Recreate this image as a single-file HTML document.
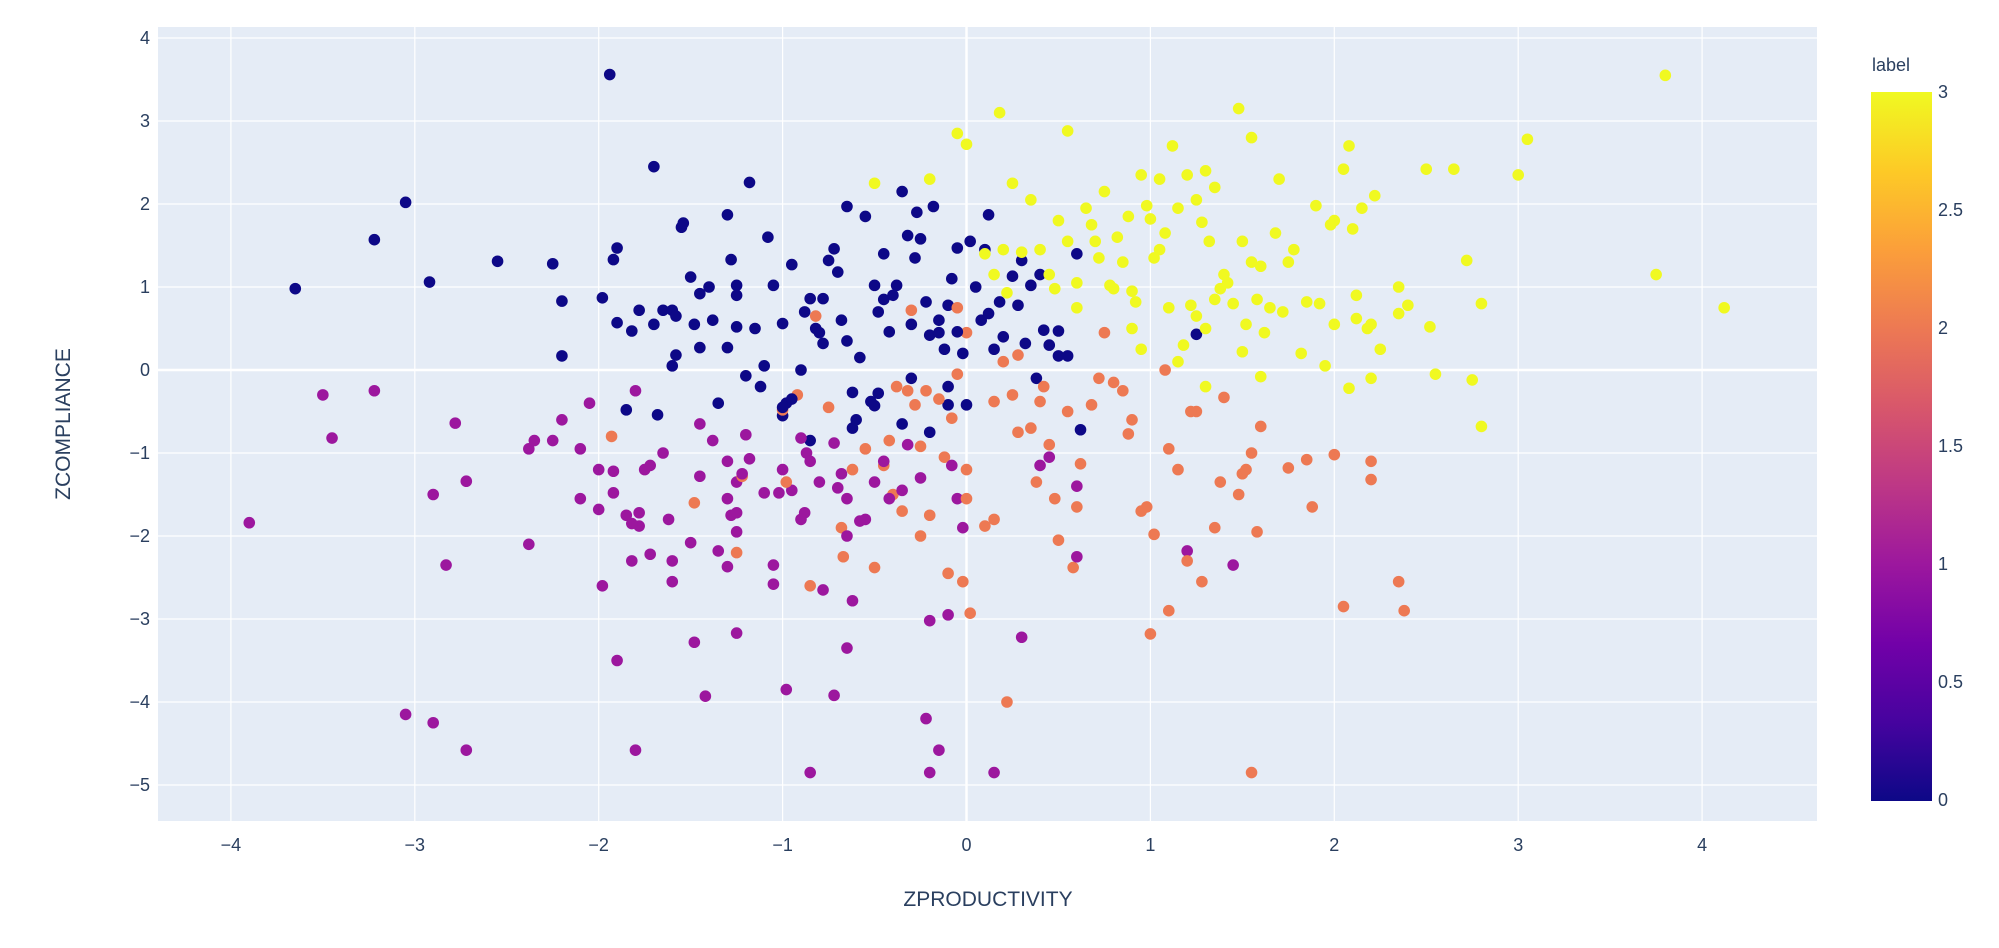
<!DOCTYPE html>
<html><head><meta charset="utf-8"><style>
html,body{margin:0;padding:0;background:#fff;}
svg{display:block;font-family:"Liberation Sans",sans-serif;}
</style></head><body>
<svg id="s" width="1999" height="948" xmlns="http://www.w3.org/2000/svg">
<defs><linearGradient id="cb" x1="0" y1="1" x2="0" y2="0">
<stop offset="0" stop-color="#0d0887"/><stop offset="0.111" stop-color="#46039f"/><stop offset="0.222" stop-color="#7201a8"/><stop offset="0.333" stop-color="#9c179e"/><stop offset="0.444" stop-color="#bd3786"/><stop offset="0.556" stop-color="#d8576b"/><stop offset="0.667" stop-color="#ed7953"/><stop offset="0.778" stop-color="#fb9f3a"/><stop offset="0.889" stop-color="#fdca26"/><stop offset="1" stop-color="#f0f921"/>
</linearGradient></defs>
<rect x="158" y="27" width="1659" height="794" fill="#e5ecf6"/>
<g id="grid"></g>
<g id="pts"></g>
<g id="lab" fill="#2a3f5f" font-size="18"></g>
<text x="988" y="906" text-anchor="middle" font-size="21" fill="#2a3f5f">ZPRODUCTIVITY</text>
<text transform="translate(70,424) rotate(-90)" text-anchor="middle" font-size="21" fill="#2a3f5f">ZCOMPLIANCE</text>
<text x="1872" y="71" font-size="18" fill="#2a3f5f">label</text>
<rect x="1871" y="92" width="61" height="709" fill="url(#cb)"/>
<g fill="#2a3f5f" font-size="18">
<text x="1938" y="98">3</text><text x="1938" y="216">2.5</text><text x="1938" y="334">2</text><text x="1938" y="452">1.5</text><text x="1938" y="570">1</text><text x="1938" y="688">0.5</text><text x="1938" y="806">0</text>
</g>
</svg>
<script>
var NS="http://www.w3.org/2000/svg";
function X(v){return 966.5+v*183.9;}function Y(v){return 370-v*83;}
function el(p,t,a){var e=document.createElementNS(NS,t);for(var k in a)e.setAttribute(k,a[k]);p.appendChild(e);return e;}
var g=document.getElementById('grid'),L=document.getElementById('lab');
for(var i=-4;i<=4;i++){el(g,'line',{x1:X(i),x2:X(i),y1:27,y2:821,stroke:'#fff','stroke-width':i==0?2.5:1.2});
var t=el(L,'text',{x:X(i),y:851,'text-anchor':'middle'});t.textContent=(i<0?'\u2212'+(-i):i);}
for(var j=-5;j<=4;j++){el(g,'line',{x1:158,x2:1817,y1:Y(j),y2:Y(j),stroke:'#fff','stroke-width':j==0?2.5:1.2});
var t=el(L,'text',{x:150,y:Y(j)+6,'text-anchor':'end'});t.textContent=(j<0?'\u2212'+(-j):j);}
var C=['#0d0887','#9c179e','#ed7953','#f0f921'];
var D=[
[[-3.65,0.98],[-3.05,2.02],[-3.22,1.57],[-2.92,1.06],[-2.55,1.31],[-2.25,1.28],[-2.2,0.83],[-2.2,0.17],[-1.98,0.87],[-1.92,1.33],[-1.9,1.47],[-1.94,3.56],[-1.9,0.57],[-1.85,-0.48],[-1.82,0.47],[-1.78,0.72],[-1.7,2.45],[-1.7,0.55],[-1.65,0.72],[-1.68,-0.54],[-1.6,0.72],[-1.58,0.65],[-1.6,0.05],[-1.58,0.18],[-1.55,1.72],[-1.54,1.77],[-1.5,1.12],[-1.48,0.55],[-1.45,0.92],[-1.45,0.27],[-1.4,1.0],[-1.38,0.6],[-1.35,-0.4],[-1.3,1.87],[-1.3,0.27],[-1.28,1.33],[-1.25,0.9],[-1.25,0.52],[-1.25,1.02],[-1.2,-0.07],[-1.18,2.26],[-1.15,0.5],[-1.12,-0.2],[-1.1,0.05],[-1.08,1.6],[-1.05,1.02],[-1.0,0.56],[-1.0,-0.55],[-0.95,1.27],[-0.95,-0.35],[-0.98,-0.4],[-0.88,0.7],[-0.85,0.86],[-0.82,0.5],[-0.8,0.45],[-0.78,0.32],[-0.78,0.86],[-0.75,1.32],[-0.72,1.46],[-0.7,1.18],[-0.68,0.6],[-0.65,1.97],[-0.65,0.35],[-0.62,-0.27],[-0.6,-0.6],[-0.62,-0.7],[-0.55,1.85],[-0.52,-0.38],[-0.5,1.02],[-0.48,0.7],[-0.45,0.85],[-0.45,1.4],[-0.42,0.46],[-0.4,0.9],[-0.38,1.02],[-0.35,2.15],[-0.32,1.62],[-0.3,-0.1],[-0.3,0.55],[-0.28,1.35],[-0.27,1.9],[-0.25,1.58],[-0.22,0.82],[-0.2,0.42],[-0.18,1.97],[-0.15,0.6],[-0.12,0.25],[-0.1,0.78],[-0.1,-0.2],[-0.08,1.1],[-0.05,1.47],[-0.05,0.46],[-0.02,0.2],[0.02,1.55],[0.05,1.0],[0.08,0.6],[0.1,1.45],[0.12,0.68],[0.12,1.87],[0.15,0.25],[0.18,0.82],[0.2,0.4],[0.25,1.13],[0.28,0.78],[0.3,1.32],[0.32,0.32],[0.35,1.02],[0.38,-0.1],[0.4,1.15],[0.42,0.48],[0.45,0.3],[0.5,0.47],[0.5,0.17],[0.55,0.17],[0.6,1.4],[0.62,-0.72],[-0.58,0.15],[-0.5,-0.43],[-0.2,-0.75],[1.25,0.43],[-0.9,0.0],[-1.0,-0.45],[-0.85,-0.85],[-0.48,-0.28],[-0.35,-0.65],[0.0,-0.42],[-0.1,-0.42],[-0.15,0.45]],
[[-3.9,-1.84],[-3.5,-0.3],[-3.45,-0.82],[-3.22,-0.25],[-2.9,-1.5],[-2.83,-2.35],[-2.78,-0.64],[-2.72,-1.34],[-2.38,-0.95],[-2.35,-0.85],[-2.38,-2.1],[-2.25,-0.85],[-2.2,-0.6],[-2.1,-0.95],[-2.1,-1.55],[-2.05,-0.4],[-2.0,-1.2],[-2.0,-1.68],[-1.98,-2.6],[-1.92,-1.22],[-1.92,-1.48],[-1.9,-3.5],[-1.85,-1.75],[-1.82,-1.85],[-1.82,-2.3],[-1.78,-1.88],[-1.78,-1.72],[-1.75,-1.2],[-1.72,-1.15],[-1.72,-2.22],[-1.65,-1.0],[-1.62,-1.8],[-1.6,-2.3],[-1.6,-2.55],[-1.5,-2.08],[-1.48,-3.28],[-1.45,-1.28],[-1.45,-0.65],[-1.42,-3.93],[-1.38,-0.85],[-1.35,-2.18],[-1.3,-1.1],[-1.3,-1.55],[-1.28,-1.75],[-1.3,-2.37],[-1.25,-1.35],[-1.25,-1.72],[-1.25,-1.95],[-1.25,-3.17],[-1.22,-1.25],[-1.2,-0.78],[-1.18,-1.07],[-1.1,-1.48],[-1.05,-2.35],[-1.05,-2.58],[-1.02,-1.48],[-1.0,-1.2],[-0.98,-3.85],[-0.95,-1.45],[-0.9,-0.82],[-0.9,-1.8],[-0.88,-1.72],[-0.87,-1.0],[-0.85,-4.85],[-0.85,-1.1],[-0.8,-1.35],[-0.78,-2.65],[-0.72,-3.92],[-0.72,-0.88],[-0.7,-1.42],[-0.68,-1.25],[-0.65,-1.55],[-0.65,-2.0],[-0.65,-3.35],[-0.62,-2.78],[-0.58,-1.82],[-0.55,-1.8],[-0.5,-1.35],[-0.45,-1.1],[-0.42,-1.55],[-0.35,-1.45],[-0.32,-0.9],[-0.25,-1.3],[-0.22,-4.2],[-0.2,-3.02],[-0.2,-4.85],[-0.15,-4.58],[-0.1,-2.95],[-0.08,-1.15],[-0.05,-1.55],[-0.02,-1.9],[0.15,-4.85],[0.3,-3.22],[0.4,-1.15],[0.45,-1.05],[0.6,-2.25],[0.6,-1.4],[1.2,-2.18],[1.45,-2.35],[-2.9,-4.25],[-3.05,-4.15],[-2.72,-4.58],[-1.8,-4.58],[-1.8,-0.25]],
[[-1.93,-0.8],[-1.48,-1.6],[-1.25,-2.2],[-1.22,-1.28],[-1.0,-0.48],[-0.98,-1.35],[-0.92,-0.3],[-0.85,-2.6],[-0.82,0.65],[-0.75,-0.45],[-0.68,-1.9],[-0.67,-2.25],[-0.62,-1.2],[-0.55,-0.95],[-0.5,-2.38],[-0.45,-1.15],[-0.42,-0.85],[-0.4,-1.5],[-0.38,-0.2],[-0.35,-1.7],[-0.32,-0.25],[-0.3,0.72],[-0.28,-0.42],[-0.25,-0.92],[-0.25,-2.0],[-0.22,-0.25],[-0.2,-1.75],[-0.15,-0.35],[-0.12,-1.05],[-0.1,-2.45],[-0.08,-0.58],[-0.05,0.75],[-0.05,-0.05],[0.0,-1.55],[0.0,-1.2],[-0.02,-2.55],[0.02,-2.93],[0.1,-1.88],[0.15,-1.8],[0.15,-0.38],[0.2,0.1],[0.22,-4.0],[0.25,-0.3],[0.28,0.18],[0.35,-0.7],[0.38,-1.35],[0.4,-0.38],[0.42,-0.2],[0.45,-0.9],[0.48,-1.55],[0.5,-2.05],[0.55,-0.5],[0.58,-2.38],[0.6,-1.65],[0.62,-1.13],[0.68,-0.42],[0.72,-0.1],[0.75,0.45],[0.8,-0.15],[0.85,-0.25],[0.88,-0.77],[0.9,-0.6],[0.95,-1.7],[0.98,-1.65],[1.0,-3.18],[1.02,-1.98],[1.08,0.0],[1.1,-0.95],[1.1,-2.9],[1.15,-1.2],[1.2,-2.3],[1.22,-0.5],[1.25,-0.5],[1.28,-2.55],[1.35,-1.9],[1.38,-1.35],[1.4,-0.33],[1.48,-1.5],[1.5,-1.25],[1.52,-1.2],[1.55,-1.0],[1.55,-4.85],[1.58,-1.95],[1.6,-0.68],[1.75,-1.18],[1.85,-1.08],[1.88,-1.65],[2.0,-1.02],[2.05,-2.85],[2.2,-1.1],[2.2,-1.32],[2.35,-2.55],[2.38,-2.9],[0.28,-0.75],[0.0,0.45]],
[[-0.5,2.25],[-0.2,2.3],[-0.05,2.85],[0.0,2.72],[0.18,3.1],[0.25,2.25],[0.55,2.88],[0.1,1.4],[0.2,1.45],[0.15,1.15],[0.22,0.93],[0.3,1.42],[0.35,2.05],[0.4,1.45],[0.45,1.15],[0.48,0.98],[0.5,1.8],[0.55,1.55],[0.6,1.05],[0.65,1.95],[0.68,1.75],[0.7,1.55],[0.72,1.35],[0.75,2.15],[0.78,1.02],[0.8,0.98],[0.82,1.6],[0.85,1.3],[0.88,1.85],[0.9,0.95],[0.92,0.82],[0.95,2.35],[0.98,1.98],[1.0,1.82],[1.02,1.35],[1.05,2.3],[1.08,1.65],[1.1,0.75],[1.12,2.7],[1.15,1.95],[1.18,0.3],[1.2,2.35],[1.22,0.78],[1.25,2.05],[1.28,1.78],[1.3,2.4],[1.32,1.55],[1.35,2.2],[1.38,0.98],[1.4,1.15],[1.42,1.05],[1.45,0.8],[1.48,3.15],[1.5,1.55],[1.52,0.55],[1.55,1.3],[1.55,2.8],[1.58,0.85],[1.6,1.25],[1.62,0.45],[1.65,0.75],[1.68,1.65],[1.7,2.3],[1.72,0.7],[1.75,1.3],[1.78,1.45],[1.82,0.2],[1.85,0.82],[1.9,1.98],[1.92,0.8],[1.95,0.05],[1.98,1.75],[2.0,1.8],[2.05,2.42],[2.08,2.7],[2.1,1.7],[2.12,0.62],[2.15,1.95],[2.18,0.5],[2.2,-0.1],[2.22,2.1],[2.25,0.25],[2.35,1.0],[2.4,0.78],[2.5,2.42],[2.52,0.52],[2.55,-0.05],[2.65,2.42],[2.72,1.32],[2.75,-0.12],[2.8,-0.68],[2.8,0.8],[3.0,2.35],[3.05,2.78],[3.75,1.15],[3.8,3.55],[4.12,0.75],[0.95,0.25],[0.9,0.5],[1.3,-0.2],[1.15,0.1],[1.6,-0.08],[2.08,-0.22],[1.25,0.65],[1.3,0.5],[1.5,0.22],[2.0,0.55],[2.12,0.9],[2.2,0.55],[2.35,0.68],[1.35,0.85],[1.05,1.45],[0.6,0.75]]];
var P=document.getElementById('pts');
var all=[];D.forEach(function(a,k){a.forEach(function(p){all.push([p[0],p[1],k]);});});
for(var i=all.length-1;i>0;i--){var r=(i*7919)%(i+1);var t=all[i];all[i]=all[r];all[r]=t;}
all.forEach(function(p){el(P,'circle',{cx:X(p[0]),cy:Y(p[1]),r:5.8,fill:C[p[2]]});});
</script>
</body></html>
